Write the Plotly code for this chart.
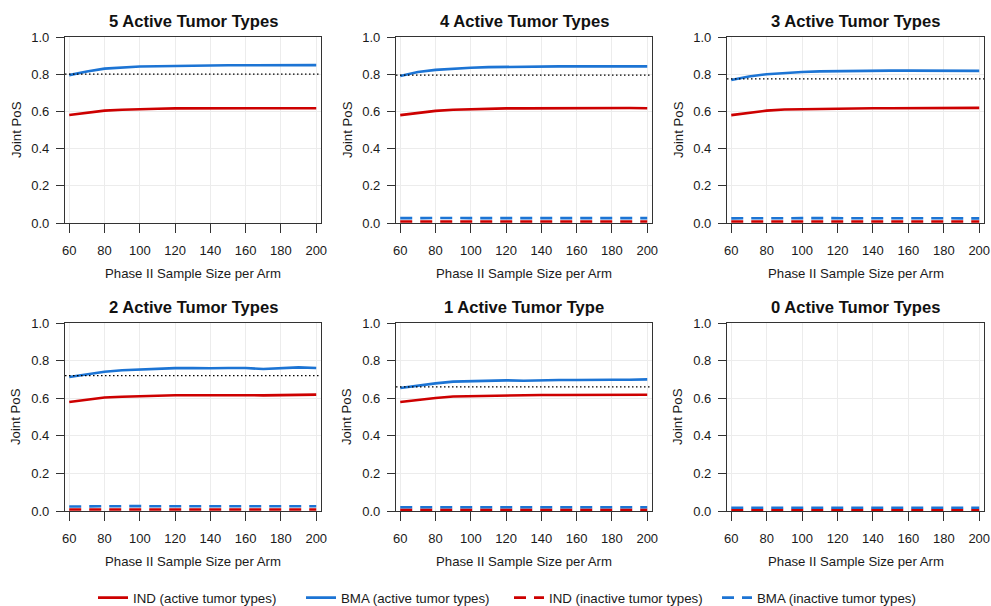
import plotly.graph_objects as go

# ---------------- data ----------------
sample_size = [60, 70, 80, 90, 100, 110, 120, 130, 140, 150, 160, 170, 180, 190, 200]

panel_titles = ["5 Active Tumor Types", "4 Active Tumor Types", "3 Active Tumor Types",
                "2 Active Tumor Types", "1 Active Tumor Type", "0 Active Tumor Types"]

ind_active = [
    [0.581, 0.594, 0.604, 0.609, 0.613, 0.614, 0.616, 0.616, 0.618, 0.617, 0.618, 0.618, 0.618, 0.617, 0.617],
    [0.580, 0.593, 0.603, 0.609, 0.612, 0.614, 0.616, 0.616, 0.617, 0.617, 0.617, 0.617, 0.618, 0.618, 0.617],
    [0.580, 0.594, 0.604, 0.610, 0.612, 0.614, 0.615, 0.616, 0.617, 0.617, 0.617, 0.617, 0.617, 0.618, 0.619],
    [0.580, 0.593, 0.604, 0.608, 0.611, 0.614, 0.616, 0.616, 0.617, 0.617, 0.616, 0.615, 0.617, 0.617, 0.619],
    [0.580, 0.591, 0.601, 0.609, 0.611, 0.613, 0.614, 0.615, 0.617, 0.617, 0.618, 0.617, 0.617, 0.617, 0.618],
    None,
]
bma_active = [
    [0.795, 0.815, 0.830, 0.836, 0.841, 0.843, 0.845, 0.846, 0.847, 0.848, 0.848, 0.848, 0.847, 0.848, 0.849],
    [0.790, 0.812, 0.823, 0.830, 0.835, 0.838, 0.840, 0.841, 0.842, 0.842, 0.842, 0.842, 0.842, 0.842, 0.842],
    [0.769, 0.788, 0.800, 0.807, 0.812, 0.815, 0.817, 0.818, 0.819, 0.819, 0.819, 0.819, 0.819, 0.819, 0.818],
    [0.713, 0.727, 0.741, 0.749, 0.754, 0.756, 0.760, 0.761, 0.759, 0.761, 0.761, 0.755, 0.760, 0.764, 0.761],
    [0.654, 0.668, 0.679, 0.688, 0.690, 0.692, 0.695, 0.693, 0.696, 0.697, 0.697, 0.699, 0.698, 0.698, 0.700],
    None,
]
ind_inactive = [
    None,
    [0.008, 0.008, 0.008, 0.008, 0.008, 0.008, 0.008, 0.008, 0.007, 0.008, 0.008, 0.008, 0.008, 0.008, 0.008],
    [0.008, 0.008, 0.008, 0.008, 0.008, 0.008, 0.008, 0.008, 0.008, 0.008, 0.008, 0.008, 0.008, 0.008, 0.008],
    [0.008, 0.008, 0.008, 0.008, 0.008, 0.008, 0.008, 0.008, 0.008, 0.008, 0.008, 0.008, 0.008, 0.008, 0.008],
    [0.007, 0.007, 0.007, 0.007, 0.007, 0.007, 0.007, 0.007, 0.007, 0.007, 0.007, 0.007, 0.007, 0.007, 0.007],
    [0.005, 0.005, 0.005, 0.005, 0.005, 0.005, 0.005, 0.005, 0.005, 0.005, 0.005, 0.005, 0.005, 0.005, 0.005],
]
bma_inactive = [
    None,
    [0.026, 0.025, 0.028, 0.027, 0.026, 0.026, 0.026, 0.024, 0.026, 0.026, 0.026, 0.026, 0.026, 0.026, 0.026],
    [0.025, 0.026, 0.026, 0.026, 0.026, 0.026, 0.026, 0.026, 0.025, 0.025, 0.026, 0.026, 0.025, 0.026, 0.025],
    [0.024, 0.025, 0.026, 0.026, 0.026, 0.025, 0.025, 0.025, 0.024, 0.025, 0.025, 0.024, 0.025, 0.025, 0.025],
    [0.020, 0.020, 0.021, 0.020, 0.020, 0.020, 0.020, 0.020, 0.020, 0.020, 0.020, 0.020, 0.020, 0.020, 0.020],
    [0.017, 0.017, 0.017, 0.017, 0.017, 0.017, 0.017, 0.017, 0.017, 0.017, 0.017, 0.017, 0.017, 0.017, 0.017],
]
reference_pos = [0.800, 0.795, 0.775, 0.720, 0.660, None]

x_ticks = [60, 80, 100, 120, 140, 160, 180, 200]
y_ticks = [0.0, 0.2, 0.4, 0.6, 0.8, 1.0]

# ---------------- styling ----------------
W, H = 991, 606
RED = "#CD0000"
BLUE = "#1C74D4"
FONT = "Liberation Sans, Arial, sans-serif"
col_px = [(65, 321), (396, 652), (727, 984)]
row_px = [(37, 223), (323, 511)]

fig = go.Figure()
layout = dict(
    width=W, height=H, margin=dict(l=0, r=0, t=0, b=0, autoexpand=False),
    paper_bgcolor="white", plot_bgcolor="white",
    font=dict(family=FONT, size=13, color="#1a1a1a"),
    showlegend=True,
    legend=dict(orientation="h", x=93 / W, xanchor="left", y=(H - 598) / H, yanchor="middle",
                entrywidth=163, entrywidthmode="pixels", font=dict(size=13.3, color="#1a1a1a"),
                bgcolor="rgba(0,0,0,0)", itemwidth=30, traceorder="normal"),
)
annotations = []
shapes = []
legend_done = set()

for i, title in enumerate(panel_titles):
    r, c = divmod(i, 3)
    n = i + 1
    xa = "xaxis" if n == 1 else f"xaxis{n}"
    ya = "yaxis" if n == 1 else f"yaxis{n}"
    xr = "x" if n == 1 else f"x{n}"
    yr = "y" if n == 1 else f"y{n}"
    x0, x1 = col_px[c]
    top, bot = row_px[r]
    layout[xa] = dict(domain=[x0 / W, x1 / W], anchor=yr, range=[57.6, 202.7],
                      tickmode="array", tickvals=x_ticks, ticks="outside", ticklen=9,
                      tickwidth=1.3, tickcolor="#333", showline=True, mirror=True,
                      linecolor="#333", linewidth=1.3, showgrid=True, gridcolor="#ececec",
                      gridwidth=1, zeroline=False, tickfont=dict(size=13, color="#1a1a1a"),
                      ticklabelstandoff=6)
    layout[ya] = dict(domain=[(H - bot) / H, (H - top) / H], anchor=xr, range=[0, 1],
                      tickmode="array", tickvals=y_ticks, tickformat=".1f", ticks="outside",
                      ticklen=8, tickwidth=1.3, tickcolor="#333", showline=True, mirror=True,
                      linecolor="#333", linewidth=1.3, showgrid=True, gridcolor="#ececec",
                      gridwidth=1, zeroline=False, tickfont=dict(size=13, color="#1a1a1a"),
                      ticklabelstandoff=4)

    if reference_pos[i] is not None:
        shapes.append(dict(type="line", xref=f"{xr} domain", yref=yr, x0=0, x1=1,
                           y0=reference_pos[i], y1=reference_pos[i], layer="above",
                           line=dict(color="black", width=1.2, dash="1.5px,2.5px")))

    series = [
        ("IND (active tumor types)", ind_active[i], RED, "solid"),
        ("BMA (active tumor types)", bma_active[i], BLUE, "solid"),
        ("IND (inactive tumor types)", ind_inactive[i], RED, "12px,8px"),
        ("BMA (inactive tumor types)", bma_inactive[i], BLUE, "12px,8px"),
    ]
    for rank, (name, vals, color, dash) in enumerate(series):
        if vals is None:
            continue
        show = name not in legend_done
        legend_done.add(name)
        fig.add_trace(go.Scatter(x=sample_size, y=vals, mode="lines", name=name,
                                 legendgroup=name, showlegend=show, legendrank=rank + 1,
                                 line=dict(color=color, width=2.6, dash=dash),
                                 xaxis=xr, yaxis=yr, hoverinfo="skip"))

    cx = (x0 + x1) / 2 / W
    annotations.append(dict(text=f"<b>{title}</b>", x=cx, y=(H - (top - 16)) / H, xref="paper", yref="paper",
                            xanchor="center", yanchor="middle", showarrow=False,
                            font=dict(size=16.6, color="#111")))
    annotations.append(dict(text="Phase II Sample Size per Arm", x=cx, y=(H - (bot + 50)) / H,
                            xref="paper", yref="paper", xanchor="center", yanchor="middle",
                            showarrow=False, font=dict(size=13.2, color="#1a1a1a")))
    annotations.append(dict(text="Joint PoS", x=(x0 - 49) / W, y=(H - (top + bot) / 2) / H,
                            xref="paper", yref="paper", xanchor="center", yanchor="middle",
                            textangle=-90, showarrow=False, font=dict(size=13.2, color="#1a1a1a")))

layout["annotations"] = annotations
layout["shapes"] = shapes
fig.update_layout(**layout)
fig.write_html("out.html")
